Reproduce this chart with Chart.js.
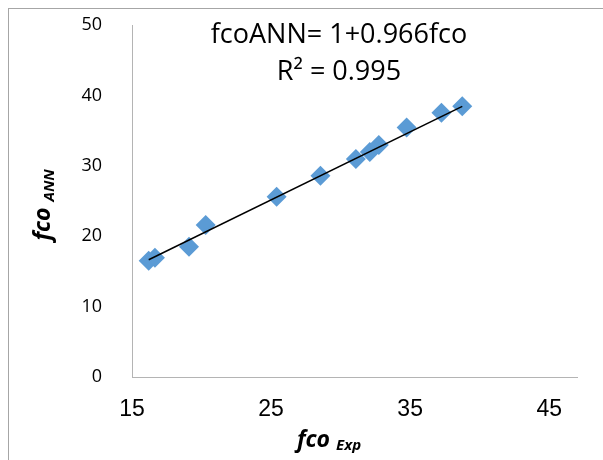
<!DOCTYPE html>
<html>
<head>
<meta charset="utf-8">
<script src="https://cdn.jsdelivr.net/npm/chart.js@4.4.1/dist/chart.umd.min.js"></script>
<style>
  html, body { margin: 0; padding: 0; background: #fff; }
  #wrap { position: relative; width: 603px; height: 460px; overflow: hidden; }
  #frame { position: absolute; left: 8px; top: 8px; width: 700px; height: 600px;
           border-left: 1px solid #a6a6a6; border-top: 1px solid #a6a6a6; }
  canvas { position: absolute; left: 0; top: 0; }
</style>
</head>
<body>
<div id="wrap">
  <div id="frame"></div>
  <canvas id="c" width="603" height="460"></canvas>
</div>
<script>
  // ---------- data ----------
  const fcoExp = [16.2, 16.65, 19.1, 20.3, 25.4, 28.55, 31.1, 32.1, 32.75, 34.75, 37.25, 38.75];
  const fcoAnn = [16.5, 16.95, 18.5, 21.6, 25.6, 28.6, 30.95, 31.95, 32.95, 35.45, 37.55, 38.45];
  // trendline end points (fcoANN = 1 + 0.966 fco)
  const trendX = [16.2, 38.75];
  const trendY = [16.65, 38.45];
  const xTicks = [15, 25, 35, 45];
  const yTicks = [0, 10, 20, 30, 40, 50];
  const eqLine1 = 'fcoANN= 1+0.966fco';
  const eqLine2 = 'R\u00B2 = 0.995';

  const axisGray = '#b4b4b4';
  const markerBlue = '#5b9bd5';

  // ---------- draw axis titles (with subscripts) and equation ----------
  const textPlugin = {
    id: 'textPlugin',
    afterDraw(chart) {
      const ctx = chart.ctx;
      ctx.save();
      ctx.fillStyle = '#000';

      // trendline equation
      ctx.font = '27px "Open Sans"';
      ctx.textAlign = 'center';
      ctx.textBaseline = 'middle';
      ctx.fillText(eqLine1, 339, 35);
      ctx.fillText(eqLine2, 339, 72);

      // x title: fco_Exp
      ctx.textAlign = 'left';
      ctx.textBaseline = 'alphabetic';
      const big = 'italic bold 23px "Open Sans"';
      const small = 'italic bold 15px "Open Sans"';
      ctx.font = big;
      const w1 = ctx.measureText('fco ').width;
      ctx.font = small;
      const w2 = ctx.measureText('Exp').width;
      let x0 = 329 - (w1 + w2) / 2;
      ctx.font = big;
      ctx.fillText('fco ', x0, 447);
      ctx.font = small;
      ctx.fillText('Exp', x0 + w1, 450);

      // y title: fco_ANN (rotated)
      ctx.translate(50, 205);
      ctx.rotate(-Math.PI / 2);
      ctx.font = big;
      const w3 = ctx.measureText('fco ').width;
      ctx.font = small;
      const w4 = ctx.measureText('ANN').width;
      x0 = -(w3 + w4) / 2;
      ctx.font = big;
      ctx.fillText('fco ', x0, 0);
      ctx.font = small;
      ctx.fillText('ANN', x0 + w3, 4);
      ctx.restore();
    }
  };

  new Chart(document.getElementById('c'), {
    type: 'scatter',
    data: {
      datasets: [
        {
          label: 'trend',
          type: 'line',
          data: trendX.map((x, i) => ({ x: x, y: trendY[i] })),
          borderColor: '#000',
          borderWidth: 1.5,
          pointRadius: 0,
          fill: false
        },
        {
          label: 'fco',
          data: fcoExp.map((x, i) => ({ x: x, y: fcoAnn[i] })),
          pointStyle: 'rectRot',
          pointRadius: 10,
          pointHoverRadius: 10,
          backgroundColor: markerBlue,
          borderColor: markerBlue,
          borderWidth: 0
        }
      ]
    },
    options: {
      responsive: false,
      animation: false,
      layout: { padding: { top: 25, right: 26, left: 0, bottom: 0 } },
      plugins: { legend: { display: false }, tooltip: { enabled: false } },
      scales: {
        x: {
          type: 'linear',
          min: 15, max: 47,
          grid: { display: false, drawTicks: false },
          border: { display: true, color: axisGray, width: 1 },
          ticks: { padding: 19, color: '#000', font: { family: '"Liberation Sans"', size: 23 } },
          afterBuildTicks: s => { s.ticks = xTicks.map(v => ({ value: v })); },
          afterFit: s => { s.height = 83; s.paddingLeft = 0; s.paddingRight = 0; }
        },
        y: {
          type: 'linear',
          min: 0, max: 50,
          grid: { display: false, drawTicks: false },
          border: { display: true, color: axisGray, width: 1 },
          ticks: { padding: 30, color: '#000', font: { family: '"Open Sans"', size: 18 } },
          afterBuildTicks: s => { s.ticks = yTicks.map(v => ({ value: v })); },
          afterFit: s => { s.width = 132; s.paddingTop = 0; s.paddingBottom = 0; }
        }
      }
    },
    plugins: [textPlugin]
  });
</script>
</body>
</html>
